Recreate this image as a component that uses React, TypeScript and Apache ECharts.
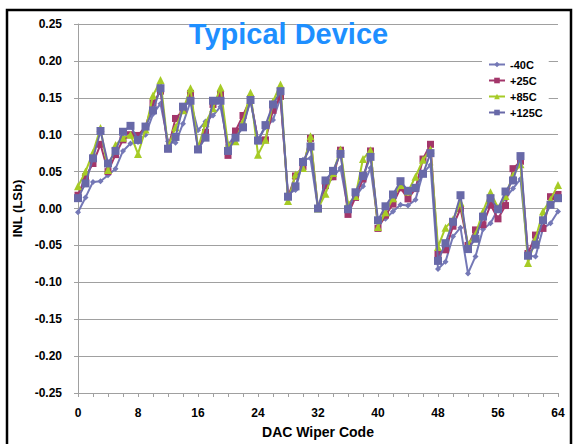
import React, { useEffect, useRef } from "react";
import * as echarts from "echarts";

const codes: number[] = Array.from({ length: 65 }, (_, i) => i);

const seriesNames = ["-40C", "+25C", "+85C", "+125C"];

const m40C = [
  -0.005, 0.015, 0.036, 0.037, 0.045, 0.054, 0.078, 0.088, 0.09, 0.1, 0.128, 0.142, 0.091, 0.089, 0.115, 0.145,
  0.106, 0.118, 0.126, 0.138, 0.086, 0.1, 0.114, 0.146, 0.093, 0.11, 0.12, 0.15, 0.02, 0.025, 0.066, 0.068,
  0.0, 0.03, 0.042, 0.055, 0.0, 0.016, 0.03, 0.055, -0.019, -0.014, -0.004, 0.005, 0.004, 0.012, 0.048, 0.059,
  -0.082, -0.072, -0.038, -0.026, -0.088, -0.065, -0.028, -0.02, -0.001, 0.014, 0.027, 0.04, -0.064, -0.065, -0.027, -0.02,
  -0.004,
];

const p25C = [
  0.018, 0.043, 0.061, 0.087, 0.05, 0.073, 0.093, 0.1, 0.099, 0.111, 0.143, 0.159, 0.081, 0.122, 0.133, 0.156,
  0.08, 0.103, 0.141, 0.155, 0.072, 0.105, 0.126, 0.149, 0.092, 0.093, 0.133, 0.152, 0.016, 0.044, 0.057, 0.095,
  0.0, 0.031, 0.043, 0.079, -0.008, 0.015, 0.04, 0.078, -0.027, -0.009, 0.006, 0.028, 0.013, 0.027, 0.067, 0.087,
  -0.062, -0.056, -0.024, 0.0, -0.05, -0.029, -0.022, 0.005, -0.014, 0.004, 0.054, 0.064, -0.061, -0.036, -0.027, 0.016,
  0.019,
];

const p85C = [
  0.03, 0.05, 0.076, 0.109, 0.052, 0.086, 0.096, 0.1, 0.074, 0.107, 0.153, 0.174, 0.083, 0.11, 0.133, 0.163,
  0.082, 0.116, 0.136, 0.164, 0.086, 0.091, 0.118, 0.157, 0.073, 0.093, 0.145, 0.168, 0.01, 0.046, 0.055, 0.098,
  0.0, 0.02, 0.048, 0.08, 0.006, 0.017, 0.067, 0.079, -0.025, -0.005, 0.014, 0.032, 0.023, 0.043, 0.066, 0.08,
  -0.052, -0.026, -0.015, 0.008, -0.049, -0.035, -0.004, 0.022, 0.001, 0.017, 0.045, 0.06, -0.074, -0.041, -0.004, 0.012,
  0.032,
];

const p125C = [
  0.014, 0.034, 0.068, 0.105, 0.061, 0.078, 0.104, 0.112, 0.093, 0.111, 0.133, 0.163, 0.081, 0.097, 0.138, 0.146,
  0.08, 0.096, 0.146, 0.146, 0.078, 0.096, 0.11, 0.147, 0.092, 0.113, 0.141, 0.159, 0.016, 0.03, 0.063, 0.084,
  0.0, 0.038, 0.051, 0.074, -0.001, 0.022, 0.044, 0.07, -0.016, 0.003, 0.019, 0.037, 0.024, 0.028, 0.047, 0.075,
  -0.071, -0.047, -0.018, 0.018, -0.055, -0.041, -0.011, 0.014, -0.001, 0.023, 0.038, 0.071, -0.064, -0.049, -0.016, 0.005,
  0.014,
];

const seriesValues = [m40C, p25C, p85C, p125C];
const seriesColors = ["#7478B6", "#A3366A", "#A6CB26", "#6869A8"];
const seriesSymbols = ["diamond", "rect", "triangle", "rect"];
const seriesSymbolSizes = [6, 7, 8, 8];

const FONT = "'Liberation Sans', Arial, sans-serif";

export default function App() {
  const ref = useRef<HTMLDivElement>(null);

  useEffect(() => {
    document.body.style.margin = "0";
    if (!ref.current) return;
    const chart = echarts.init(ref.current, null, { renderer: "svg" });
    chart.setOption({
      animation: false,
      backgroundColor: "#ffffff",
      textStyle: { fontFamily: FONT },
      title: {
        text: "Typical Device",
        left: "center",
        top: 14,
        textStyle: { fontFamily: FONT, fontSize: 29, fontWeight: "bold", color: "#1E8FFF" },
      },
      legend: {
        orient: "vertical",
        left: 482,
        top: 56,
        itemGap: 5,
        itemWidth: 16,
        itemHeight: 7,
        padding: [3, 6, 3, 6],
        backgroundColor: "#ffffff",
        textStyle: { fontFamily: FONT, fontSize: 11, fontWeight: "bold", color: "#000" },
        data: seriesNames,
      },
      grid: { left: 78, right: 19, top: 24, bottom: 50, containLabel: false },
      xAxis: {
        type: "value",
        min: 0,
        max: 64,
        interval: 2,
        name: "DAC Wiper Code",
        nameLocation: "middle",
        nameGap: 32,
        nameTextStyle: { fontFamily: FONT, fontSize: 14, fontWeight: "bold", color: "#000" },
        axisLine: { onZero: false, lineStyle: { color: "#A0A0A0", width: 1 } },
        axisTick: { show: true, length: 4, lineStyle: { color: "#A0A0A0" } },
        axisLabel: {
          margin: 14,
          fontFamily: FONT,
          fontSize: 12,
          fontWeight: "bold",
          color: "#000",
          formatter: (v: number) => (v % 8 === 0 ? String(v) : ""),
        },
        splitLine: { show: false },
      },
      yAxis: {
        type: "value",
        min: -0.25,
        max: 0.25,
        interval: 0.05,
        name: "INL (LSb)",
        nameLocation: "middle",
        nameGap: 45,
        nameTextStyle: { fontFamily: FONT, fontSize: 13, fontWeight: "bold", color: "#000" },
        axisLine: { show: true, lineStyle: { color: "#A0A0A0", width: 1 } },
        axisTick: { show: true, length: 4, lineStyle: { color: "#A0A0A0" } },
        axisLabel: {
          margin: 16,
          fontFamily: FONT,
          fontSize: 12,
          fontWeight: "bold",
          color: "#000",
          formatter: (v: number) => v.toFixed(2),
        },
        splitLine: { show: true, lineStyle: { color: "#A0A0A0", width: 1 } },
      },
      graphic: [
        {
          type: "rect",
          shape: { x: 7, y: 10, width: 564, height: 450 },
          style: { fill: "none", stroke: "#000", lineWidth: 2.5 },
          silent: true,
        },
      ],
      series: seriesNames.map((name, si) => ({
        name,
        type: "line",
        data: codes.map((c, i) => [c, seriesValues[si][i]]),
        symbol: seriesSymbols[si],
        symbolSize: seriesSymbolSizes[si],
        showAllSymbol: true,
        lineStyle: { color: seriesColors[si], width: 2 },
        itemStyle: { color: seriesColors[si], borderWidth: 0 },
        z: 2 + si,
      })),
    });
    return () => chart.dispose();
  }, []);

  return <div ref={ref} style={{ width: 577, height: 444 }} />;
}
